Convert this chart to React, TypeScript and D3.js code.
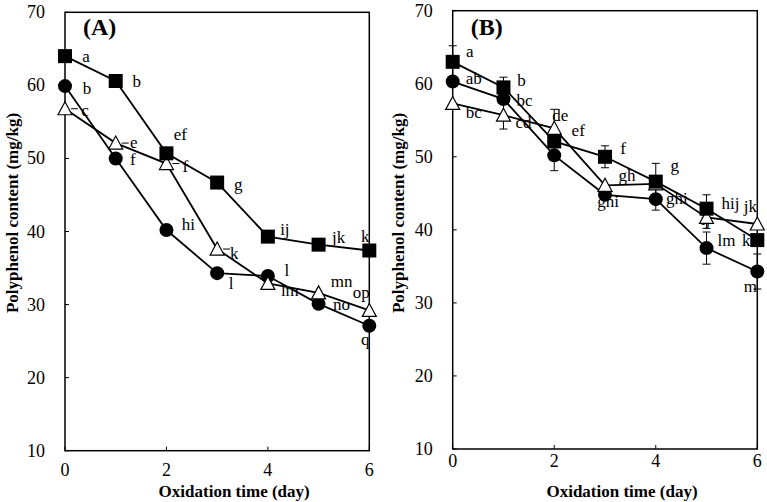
import React from "react";
import * as d3 from "d3";

const days = [0, 1, 2, 3, 4, 5, 6];
const yTicks = [10, 20, 30, 40, 50, 60, 70];
const xTicks = [0, 2, 4, 6];

// Panel A
const aSquare = [64.0, 60.6, 50.7, 46.7, 39.3, 38.2, 37.4];
const aCircle = [59.9, 50.0, 40.2, 34.3, 33.9, 30.1, 27.1];
const aTriangle = [56.8, 52.1, 49.3, 37.6, 32.9, 31.6, 29.2];
const aSquareLabels = ["a", "b", "ef", "g", "ij", "jk", "k"];
const aCircleLabels = ["b", "f", "hi", "l", "l", "no", "q"];
const aTriangleLabels = ["c", "e", "f", "k", "lm", "mn", "op"];

// Panel B
const bSquare = [63.0, 59.5, 52.1, 50.0, 46.6, 42.9, 38.6];
const bSquareErr = [2.2, 1.4, null, 1.5, 2.5, 1.9, null];
const bCircle = [60.3, 57.9, 50.2, 44.8, 44.2, 37.5, 34.3];
const bCircleErr = [null, null, 2.1, null, 1.5, 2.2, 2.4];
const bTriangle = [57.3, 55.7, 53.9, 46.1, 46.3, 41.7, 40.8];
const bTriangleErr = [null, 1.9, 2.6, null, null, 1.5, null];
const bSquareLabels = ["a", "b", "ef", "f", "g", "hij", "k"];
const bCircleLabels = ["ab", "bc", "", "ghi", "ghi", "lm", "m"];
const bTriangleLabels = ["bc", "cd", "de", "gh", "", "ij", "jk"];

// label offsets (pixels, relative to marker centre; text is centred)
const aSqOff = [[21, 1], [21, 1], [14, -18], [21, 2], [17, -7], [20, -7], [-4, -13]];
const aCiOff = [[22, 3], [17, 2], [22, -5], [14, 11], [19, -5], [23, 1], [-4, 14]];
const aTrOff = [[20, 2], [18, 0], [19, 3], [17, 5], [22, 8], [23, -11], [-8, -17]];
const bSqOff = [[17, -10], [18, -6], [24, -10], [18, -8], [19, -16], [24, -5], [-11, 1]];
const bCiOff = [[21, -3], [21, 2], [0, 0], [3, 7], [21, 0], [20, -7], [-7, 16]];
const bTrOff = [[21, 10], [20, 8], [6, -12], [22, -9], [0, 0], [-1, 3], [-7, -17]];
const aTriDash = [true, true, true, true, false, false, false];

const FONT = "'Liberation Serif', 'Times New Roman', serif";

type Series = {
  kind: "square" | "circle" | "triangle";
  values: number[];
  err?: (number | null)[];
  labels: string[];
  off: number[][];
  dash?: boolean[];
};

function Panel(props: {
  left: number; right: number; top: number; bottom: number;
  title: string; series: Series[]; tickLabelY: number; yTitleX: number;
}) {
  const { left, right, top, bottom, title, series, tickLabelY, yTitleX } = props;
  const x = d3.scaleLinear().domain([0, 6]).range([left, right]);
  const y = d3.scaleLinear().domain([10, 70]).range([bottom, top]);
  const line = d3.line<number>().x((_, i) => x(days[i])).y((v) => y(v));
  const ms = 14;
  const marker = (kind: string, cx: number, cy: number, key: string) => {
    if (kind === "square")
      return <rect key={key} x={cx - ms / 2} y={cy - ms / 2} width={ms} height={ms} fill="#000" />;
    if (kind === "circle")
      return <circle key={key} cx={cx} cy={cy} r={ms / 2} fill="#000" />;
    const h = 12, w = 14;
    return (
      <path key={key} d={`M${cx},${cy - h / 2 - 1} L${cx + w / 2},${cy + h / 2} L${cx - w / 2},${cy + h / 2} Z`}
        fill="#fff" stroke="#000" strokeWidth={1.2} />
    );
  };
  return (
    <g>
      {/* labels beneath */}
      {series.map((s, si) =>
        s.values.map((v, i) =>
          s.labels[i] ? (
            <text key={`l${si}-${i}`} x={x(days[i]) + s.off[i][0]} y={y(v) + s.off[i][1] + 5}
              textAnchor="middle" fontSize={17} fontFamily={FONT} fill="#000">{s.labels[i]}</text>
          ) : null
        )
      )}
      {/* frame */}
      <rect x={left} y={top} width={right - left} height={bottom - top} fill="none" stroke="#000" strokeWidth={1.5} />
      {yTicks.map((t) => (
        <g key={`yt${t}`}>
          <line x1={left} x2={left + 4} y1={y(t)} y2={y(t)} stroke="#000" strokeWidth={1} />
          <text x={left - 20} y={y(t) + 6} textAnchor="end" fontSize={18} fontFamily={FONT}>{t}</text>
        </g>
      ))}
      {xTicks.map((t) => (
        <g key={`xt${t}`}>
          <line x1={x(t)} x2={x(t)} y1={bottom} y2={bottom - 4} stroke="#000" strokeWidth={1} />
          <text x={x(t)} y={tickLabelY} textAnchor="middle" fontSize={18} fontFamily={FONT}>{t}</text>
        </g>
      ))}
      <text x={left + 18} y={35} fontSize={24} fontWeight="bold" fontFamily={FONT}>{title}</text>
      <text x={(left + right) / 2 + 17} y={497} textAnchor="middle" fontSize={17} fontWeight="bold" fontFamily={FONT}>
        Oxidation time (day)
      </text>
      <text transform={`translate(${yTitleX},${213}) rotate(-90)`} textAnchor="middle" fontSize={17}
        fontWeight="bold" fontFamily={FONT}>Polyphenol content (mg/kg)</text>
      {/* lines */}
      {series.map((s, si) => (
        <path key={`p${si}`} d={line(s.values) || ""} fill="none" stroke="#000" strokeWidth={1.8} />
      ))}
      {/* error bars */}
      {series.map((s, si) =>
        (s.err || []).map((e, i) =>
          e ? (
            <g key={`e${si}-${i}`} stroke="#000" strokeWidth={1}>
              <line x1={x(days[i])} x2={x(days[i])} y1={y(s.values[i] - e)} y2={y(s.values[i] + e)} />
              <line x1={x(days[i]) - 4} x2={x(days[i]) + 4} y1={y(s.values[i] - e)} y2={y(s.values[i] - e)} />
              <line x1={x(days[i]) - 4} x2={x(days[i]) + 4} y1={y(s.values[i] + e)} y2={y(s.values[i] + e)} />
            </g>
          ) : null
        )
      )}
      {/* markers */}
      {series.map((s, si) => s.values.map((v, i) => marker(s.kind, x(days[i]), y(v), `m${si}-${i}`)))}
      {series.map((s, si) =>
        (s.dash || []).map((dd, i) =>
          dd ? (
            <line key={`d${si}-${i}`} x1={x(days[i]) + 6} x2={x(days[i]) + 13} y1={y(s.values[i])} y2={y(s.values[i])}
              stroke="#000" strokeWidth={1} />
          ) : null
        )
      )}
    </g>
  );
}

export default function App() {
  const seriesA: Series[] = [
    { kind: "circle", values: aCircle, labels: aCircleLabels, off: aCiOff },
    { kind: "triangle", values: aTriangle, labels: aTriangleLabels, off: aTrOff, dash: aTriDash },
    { kind: "square", values: aSquare, labels: aSquareLabels, off: aSqOff },
  ];
  const seriesB: Series[] = [
    { kind: "circle", values: bCircle, err: bCircleErr, labels: bCircleLabels, off: bCiOff },
    { kind: "triangle", values: bTriangle, err: bTriangleErr, labels: bTriangleLabels, off: bTrOff },
    { kind: "square", values: bSquare, err: bSquareErr, labels: bSquareLabels, off: bSqOff },
  ];
  return (
    <svg width={767} height={502} style={{ position: "absolute", left: 0, top: 0, background: "#fff" }}>
      <rect width={767} height={502} fill="#fff" />
      <Panel left={65} right={369.3} top={12.3} bottom={450.7} title="(A)" series={seriesA} tickLabelY={476} yTitleX={18} />
      <Panel left={452.7} right={757.3} top={10.7} bottom={449} title="(B)" series={seriesB} tickLabelY={467} yTitleX={404} />
    </svg>
  );
}
